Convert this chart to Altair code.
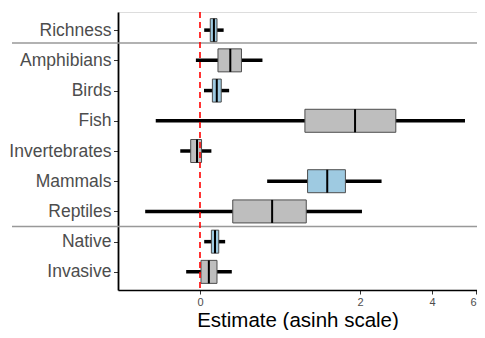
import altair as alt
import numpy as np
import pandas as pd

categories = ["Richness", "Amphibians", "Birds", "Fish", "Invertebrates",
              "Mammals", "Reptiles", "Native", "Invasive"]
whisker_low = [0.038, -0.037, 0.036, -0.410, -0.179, 0.644, -0.515, 0.038, -0.125]
box_q1 = [0.093, 0.163, 0.112, 1.095, -0.084, 1.131, 0.300, 0.103, 0.009]
box_median = [0.126, 0.277, 0.152, 1.903, -0.027, 1.418, 0.698, 0.136, 0.080]
box_q3 = [0.154, 0.383, 0.193, 2.842, 0.014, 1.723, 1.113, 0.170, 0.154]
whisker_high = [0.215, 0.594, 0.266, 5.420, 0.103, 2.477, 2.041, 0.229, 0.291]
highlight = [True, False, True, False, False, True, False, True, False]
tick_labels = [0, 2, 4, 6]
separators = [0.43, 6.5]

BLUE = "#9ECAE1"
GRAY = "#BEBEBE"

df = pd.DataFrame({
    "cat": categories,
    "idx": list(range(len(categories))),
    "lo": np.arcsinh(whisker_low),
    "q1": np.arcsinh(box_q1),
    "med": np.arcsinh(box_median),
    "q3": np.arcsinh(box_q3),
    "hi": np.arcsinh(whisker_high),
    "fill": [BLUE if h else GRAY for h in highlight],
})
sep_df = pd.DataFrame({"pos": separators})

W, H = 359, 278
PAD_L, PAD_T, PAD_B = 110, 4, 40
label_expr = "[" + ",".join("'" + c + "'" for c in categories) + "][datum.value]"

x_scale = alt.Scale(domain=[-0.740, 2.500], nice=False, zero=False, padding=0)
y_scale = alt.Scale(domain=[-0.6, len(categories) - 0.4], reverse=True, nice=False,
                    zero=False, padding=0)

x_axis = alt.Axis(
    values=[float(v) for v in np.arcsinh(tick_labels)],
    labelExpr="format((exp(datum.value)-exp(-datum.value))/2, '.0f')",
    title="Estimate (asinh scale)",
    grid=False, domainColor="black", domainWidth=1.5,
    tickColor="#333333", tickSize=4, tickWidth=1,
    labelColor="#4D4D4D", labelFontSize=11, labelPadding=2,
    titleFontSize=20.5, titleColor="black", titleFontWeight="normal", titlePadding=3,
    labelFont="Liberation Sans", titleFont="Liberation Sans",
)
y_axis = alt.Axis(
    values=list(range(len(categories))), labelExpr=label_expr, title=None,
    grid=False, domainColor="black", domainWidth=1.8,
    tickColor="#333333", tickSize=4.5, tickWidth=1,
    labelColor="#4D4D4D", labelFontSize=17.5, labelPadding=2.5,
    labelFont="Liberation Sans",
)

base = alt.Chart(df)

seps = alt.Chart(sep_df).mark_rule(color="#999999", strokeWidth=1.5).encode(
    x=alt.value(-106), x2=alt.value(W),
    y=alt.Y("pos:Q", scale=y_scale, axis=y_axis),
)

whiskers = base.mark_rule(color="black", strokeWidth=3.5).encode(
    x=alt.X("lo:Q", scale=x_scale, axis=x_axis),
    x2="hi:Q",
    y=alt.Y("idx:Q", scale=y_scale, axis=y_axis),
)

boxes = base.mark_bar(size=23, stroke="#4D4D4D", strokeWidth=1).encode(
    x=alt.X("q1:Q", scale=x_scale, axis=x_axis),
    x2="q3:Q",
    y=alt.Y("idx:Q", scale=y_scale, axis=y_axis),
    fill=alt.Fill("fill:N", scale=None),
)

medians = base.mark_tick(orient="vertical", size=23, thickness=2, color="black", opacity=1).encode(
    x=alt.X("med:Q", scale=x_scale, axis=x_axis),
    y=alt.Y("idx:Q", scale=y_scale, axis=y_axis),
)

zero_line = alt.Chart(pd.DataFrame({"z": [0.0]})).mark_rule(
    color="#FF0000", strokeWidth=1.6, strokeDash=[6, 4]
).encode(x=alt.X("z:Q", scale=x_scale, axis=x_axis))

chart = alt.layer(seps, whiskers, boxes, medians, zero_line).properties(
    width=W, height=H,
    background="white",
    autosize=alt.AutoSizeParams(type="none"),
    padding={"left": PAD_L, "top": PAD_T, "right": 0, "bottom": PAD_B},
).configure_view(stroke=None, fill="white").configure(font="Liberation Sans")

chart.save("out.html", embed_options={"renderer": "svg", "actions": False})
